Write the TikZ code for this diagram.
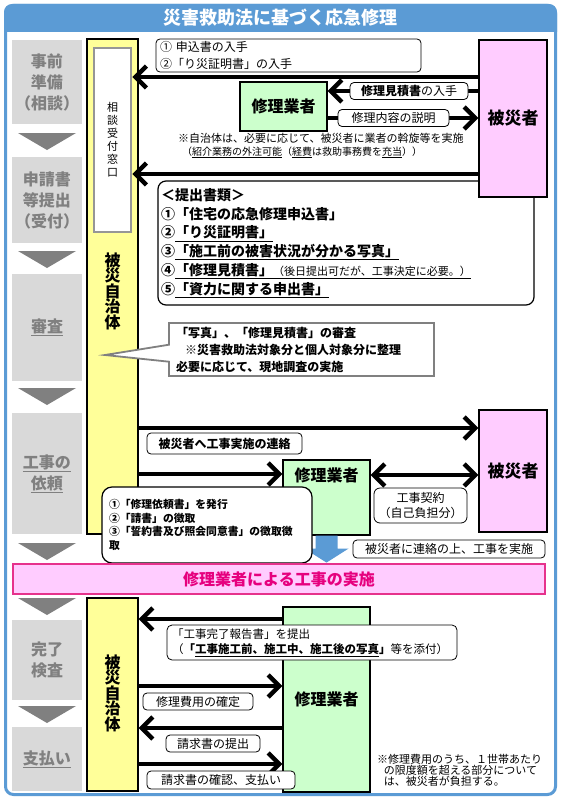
\documentclass[tikz,border=0pt]{standalone}
\usepackage{fontspec}
\setmainfont{Noto Sans CJK JP}
\usepackage{xcolor}
\usepackage{tikz}
\usetikzlibrary{arrows.meta, shapes.callouts, positioning, calc}
\definecolor{titleblue}{RGB}{91,155,213}
\definecolor{stepgrey}{RGB}{217,217,217}
\definecolor{steptext}{RGB}{128,128,128}
\definecolor{trigrey}{RGB}{128,128,128}
\definecolor{jichiyellow}{RGB}{255,255,153}
\definecolor{gyoshagreen}{RGB}{204,255,204}
\definecolor{higaipink}{RGB}{255,204,255}
\definecolor{bannerline}{RGB}{230,50,140}
\definecolor{bannertext}{RGB}{230,0,126}
\definecolor{madoline}{RGB}{150,150,150}
\newcommand{\jfs}[2]{\fontsize{#1}{#2}\selectfont}

\begin{document}
\begin{tikzpicture}[x=1pt, y=-1pt,
		stepbox/.style={fill=stepgrey, text=steptext, font=\bfseries\jfs{16}{21}, minimum width=70pt, inner sep=0pt, align=center},
		jichibox/.style={draw=black, line width=1.2pt, fill=jichiyellow, minimum width=51pt, inner sep=0pt},
		jichitext/.style={font=\bfseries\jfs{16}{15.5}, align=center, inner sep=0pt},
		higaibox/.style={draw=black, line width=1.2pt, fill=higaipink, minimum width=68pt, inner sep=0pt, font=\bfseries\jfs{17}{17}},
		gyoshabox/.style={draw=black, line width=1.2pt, fill=gyoshagreen, minimum width=87pt, inner sep=0pt, font=\bfseries\jfs{16}{16}},
		memo/.style={draw=black, line width=0.8pt, fill=white, rounded corners=4pt, inner sep=0pt, font=\jfs{12}{14}},
		bigarrow/.style={line width=4.5pt, -{Straight Barb[length=11pt,width=22pt]}},
		twowayarrow/.style={line width=4.5pt, {Straight Barb[length=11pt,width=22pt]}-{Straight Barb[length=11pt,width=22pt]}}]
		\useasboundingbox (0,0) rectangle (561,800);
		\fill[white] (0,0) rectangle (561,800);
		\pgfmathsetmacro{\triw}{58}
		\pgfmathsetmacro{\trih}{17}
		
		\fill[titleblue] (4,32) [rounded corners=8pt] -- (4,4) -- (557,4) [sharp corners] -- (557,32) -- cycle;
		\draw[titleblue, line width=3pt, rounded corners=8pt] (5.5,5.5) rectangle (555.5,794.5);
		\node[text=white, font=\bfseries\jfs{18}{18}] (title) at (280.5,18) {災害救助法に基づく応急修理};
		
		\node[stepbox, minimum height=84pt] (stepA) at (47,82) {事前\\準備\\（相談）};
		\node[stepbox, minimum height=86pt] (stepB) at (47,200) {申請書\\等提出\\（受付）};
		\node[stepbox, minimum height=107pt] (stepC) at (47,327.5) {\underline{審査}};
		\node[stepbox, minimum height=121pt] (stepD) at (47,473.5) {\underline{工事の}\\\underline{依頼}};
		\node[stepbox, minimum height=80pt] (stepE) at (47,660) {完了\\検査};
		\node[stepbox, minimum height=64pt] (stepF) at (47,759) {\underline{支払い}};
		\fill[trigrey] (18,133) -- ++(\triw,0) -- ++(-\triw/2,\trih) -- cycle;
		\fill[trigrey] (18,251) -- ++(\triw,0) -- ++(-\triw/2,\trih) -- cycle;
		\fill[trigrey] (18,388) -- ++(\triw,0) -- ++(-\triw/2,\trih) -- cycle;
		\fill[trigrey] (18,543) -- ++(\triw,0) -- ++(-\triw/2,\trih) -- cycle;
		\fill[trigrey] (18,598) -- ++(\triw,0) -- ++(-\triw/2,\trih) -- cycle;
		\fill[trigrey] (18,706) -- ++(\triw,0) -- ++(-\triw/2,\trih) -- cycle;
		
		\node[jichibox, minimum height=495pt] (jichiA) at (112.5,286.5) {};
		\node[draw=madoline, line width=2.5pt, fill=white, minimum width=37pt, minimum height=184pt, inner sep=0pt, font=\jfs{11}{13}, align=center] (madoguchi) at (112.5,140) {相\\談\\受\\付\\窓\\口};
		\node[jichitext] (jichiAname) at (112.5,291) {被\\災\\自\\治\\体};
		\node[jichibox, minimum height=193pt] (jichiB) at (112.5,694.5) {};
		\node[jichitext] (jichiBname) at (112.5,693) {被\\災\\自\\治\\体};
		
		\node[memo, rounded corners=8pt, line width=1.2pt, minimum width=376pt, minimum height=124pt, align=left, text width=370pt, font=\bfseries\jfs{14}{18.7}] (shorui) at (346,243) {＜提出書類＞\\①「住宅の応急修理申込書」\\②\underline{「り災証明書」}\\③\underline{「施工前の被害状況が分かる写真」}\\④\underline{「修理見積書」{\mdseries\jfs{11}{18.7}（後日提出可だが、工事決定に必要。）}}\\⑤\underline{「資力に関する申出書」}};
		\node[higaibox, minimum height=157pt] (higaishaA) at (513,118.5) {被災者};
		\node[higaibox, minimum height=122pt] (higaishaB) at (513,471) {被災者};
		\node[gyoshabox, minimum height=49pt] (gyoshaA) at (283.5,106.5) {修理業者};
		\node[gyoshabox, minimum height=75pt] (gyoshaB) at (326.5,497.5) {};
		\node[font=\bfseries\jfs{16}{16}, inner sep=0pt, below=8pt of gyoshaB.north] (gyoshaBname) {修理業者};
		\node[gyoshabox, minimum height=185pt] (gyoshaC) at (326.5,699.5) {修理業者};
		
		\node[memo, minimum width=265pt, minimum height=33pt, align=left, text width=257pt, font=\jfs{12}{17}] (memoA) at (288.5,55.5) {①~申込書の入手\\②「り災証明書」の入手};
		\draw[bigarrow] (higaishaA.west |- 0,77) -- (madoguchi.east |- 0,77);
		\draw[bigarrow] (higaishaA.west |- 0,91) -- (gyoshaA.east |- 0,91);
		\node[memo, minimum width=118pt, minimum height=17pt] (mitsumori) at (409,91) {\textbf{修理見積書}の入手};
		\draw[bigarrow] (gyoshaA.east |- 0,118) -- (higaishaA.west |- 0,118);
		\node[memo, minimum width=111pt, minimum height=17pt] (setsumei) at (393.5,118) {修理内容の説明};
		\node[anchor=west, align=left, inner sep=0pt, font=\jfs{11}{13}] (assen) at (178,145.5) {※自治体は、必要に応じて、被災者に業者の斡旋等を実施\\{\jfs{10}{13}\hspace*{0.4em}（\underline{紹介業務の外注可能}（\underline{経費}は救助事務費を\underline{充当}））}};
		\draw[bigarrow] (higaishaA.west |- 0,174) -- (madoguchi.east |- 0,174);
		
		\node[rectangle callout, callout absolute pointer={(105,355)}, callout pointer width=17pt, draw=steptext, line width=1.8pt, fill=white, minimum width=265pt, minimum height=53pt, inner sep=0pt, align=left, text width=251pt, font=\bfseries\jfs{12}{17}] (shinsa) at (301.5,349.5) {「写真」、「修理見積書」の審査\\\hspace*{0.75em}※災害救助法対象分と個人対象分に整理\\必要に応じて、現地調査の実施};
		
		\draw[bigarrow] (jichiA.east |- 0,428) -- (higaishaB.west |- 0,428);
		\node[memo, minimum width=155pt, minimum height=21pt, font=\bfseries\jfs{12}{14}] (renraku) at (224.5,443.5) {被災者へ工事実施の連絡};
		\draw[bigarrow] (jichiA.east |- 0,474) -- (gyoshaB.west |- 0,474);
		\draw[twowayarrow] (gyoshaB.east |- 0,475) -- (higaishaB.west |- 0,475);
		\node[memo, rounded corners=6pt, minimum width=93pt, minimum height=35pt, align=center, font=\jfs{12}{15}] (keiyaku) at (420.5,505.5) {工事契約\\（自己負担分）};
		\fill[titleblue] ([xshift=-11pt]gyoshaB.south) -- ++(22,0) -- ++(0,13) -- ++(11,0) -- ++(-22,14) -- ++(-22,-14) -- ++(11,0) -- cycle;
		\node[memo, rounded corners=10pt, line width=1.2pt, minimum width=210pt, minimum height=76pt, align=left, text width=196pt, font=\bfseries\jfs{10.8}{13.5}] (irai) at (207,525) {①「修理依頼書」を発行\\②「請書」の徴取\\③「誓約書及び照会同意書」の徴取徴\\取};
		\node[memo, minimum width=192pt, minimum height=18pt, font=\jfs{12}{14}] (jisshi) at (449,549) {被災者に連絡の上、工事を実施};
		\node[draw=bannerline, line width=2.5pt, fill=higaipink, minimum width=532pt, minimum height=30pt, inner sep=0pt, text=bannertext, font=\bfseries\jfs{16}{16}] (banner) at (279,579) {修理業者による工事の実施};
		
		\draw[bigarrow] (gyoshaC.west |- 0,619) -- (jichiB.east |- 0,619);
		\node[memo, rounded corners=5pt, minimum width=290pt, minimum height=35pt, align=left, text width=280pt, font=\jfs{11.5}{15}] (kanryo) at (312,642.5) {「工事完了報告書」を提出\\（\textbf{「\underline{工事施工前、施工中、施工後の写真}」}等を添付）};
		\draw[bigarrow] (jichiB.east |- 0,686) -- (gyoshaC.west |- 0,686);
		\node[memo, minimum width=110pt, minimum height=17pt] (kakutei) at (198,701.5) {修理費用の確定};
		\draw[bigarrow] (gyoshaC.west |- 0,728) -- (jichiB.east |- 0,728);
		\node[memo, minimum width=94pt, minimum height=17pt] (seikyu) at (213,743.5) {請求書の提出};
		\draw[bigarrow] (jichiB.east |- 0,764) -- (gyoshaC.west |- 0,764);
		\node[memo, minimum width=148pt, minimum height=18pt] (shiharai) at (221,780) {請求書の確認、支払い};
		\node[anchor=north west, align=left, inner sep=0pt, font=\jfs{11}{11}] (futan) at (377,754) {※修理費用のうち、１世帯あたり\\\hspace*{0.6em}の限度額を超える部分について\\\hspace*{0.6em}は、被災者が負担する。};
		
\end{tikzpicture}
\end{document}
